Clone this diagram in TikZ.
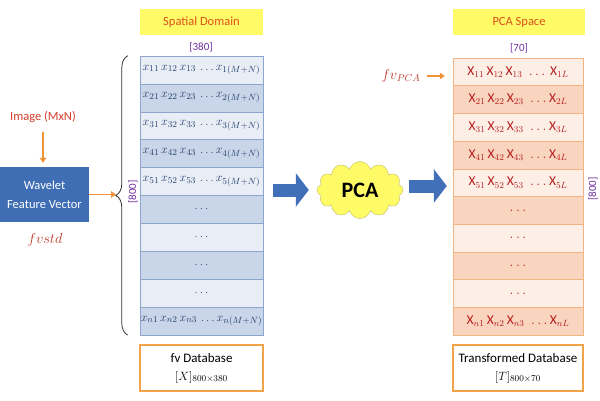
\documentclass[tikz,border=0pt]{standalone}
\usepackage{fontspec}
\setmainfont{Carlito}
\usetikzlibrary{positioning,arrows.meta,shapes,decorations.pathreplacing}
\definecolor{titleyellow}{HTML}{FFFB66}
\definecolor{titlered}{HTML}{DC4F1C}
\definecolor{dimpurple}{HTML}{7030A0}
\definecolor{waveblue}{HTML}{3F6EB5}
\definecolor{arroworange}{HTML}{F0923A}
\definecolor{imgred}{HTML}{D43D2A}
\definecolor{fvred}{HTML}{C0392B}
\definecolor{ltext}{HTML}{24406E}
\definecolor{lline}{HTML}{8DA6CC}
\definecolor{lightL}{HTML}{E9EEF6}
\definecolor{darkL}{HTML}{C9D5E8}
\definecolor{rtext}{HTML}{B71C1C}
\definecolor{rline}{HTML}{F2B483}
\definecolor{lightR}{HTML}{FDEEE6}
\definecolor{darkR}{HTML}{F9D4BF}
\definecolor{dborange}{HTML}{F2A347}
\definecolor{blockblue}{HTML}{4170B8}
\definecolor{cloudyellow}{HTML}{FFFB66}
\definecolor{cloudline}{HTML}{BDBD6A}
\tikzset{
    row/.style={rectangle, draw=#1, minimum height=27.9pt, inner sep=0pt,
        font=\fontsize{13}{15}\selectfont},
    lrow/.style={row=lline, fill=#1, minimum width=123pt, text=ltext},
    rrow/.style={row=rline, fill=#1, minimum width=130pt, minimum height=27.7pt, text=rtext,
        font=\fontsize{13.5}{15}\selectfont},
    title/.style={rectangle, fill=titleyellow, text=titlered, minimum height=26pt,
        font=\fontsize{12.5}{14}\selectfont},
    dim/.style={text=dimpurple, font=\fontsize{11}{13}\selectfont},
    dbbox/.style={rectangle, draw=dborange, line width=1.6pt, fill=white, minimum height=46pt,
        align=center, font=\fontsize{13}{18}\selectfont},
    oarrow/.style={draw=arroworange, line width=1.8pt, -{Triangle[length=5pt,width=6.5pt]}},
    bigarrow/.style={draw=blockblue, line width=13pt, -{Triangle[length=13pt,width=33pt]}},
    bracket/.style={decorate, decoration={brace, amplitude=12pt}, draw=black!80, thick},
}
\begin{document}
\begin{tikzpicture}[x=1pt, y=1pt]
    \useasboundingbox (0,0) rectangle (600,400);
    % spatial domain
    \node[title, minimum width=123pt] (spatial) at (201.5,378) {Spatial Domain};
    \node[dim] (dim380) at (201,353) {[380]};
    \node[lrow=lightL] (l1) at (201.5,330.1) {$x_{11}\,x_{12}\,x_{13}\,\dots x_{1(M+N)}$};
    \node[lrow=darkL] (l2) at (201.5,302.2) {$x_{21}\,x_{22}\,x_{23}\,\dots x_{2(M+N)}$};
    \node[lrow=lightL] (l3) at (201.5,274.3) {$x_{31}\,x_{32}\,x_{33}\,\dots x_{3(M+N)}$};
    \node[lrow=darkL] (l4) at (201.5,246.4) {$x_{41}\,x_{42}\,x_{43}\,\dots x_{4(M+N)}$};
    \node[lrow=lightL] (l5) at (201.5,218.5) {$x_{51}\,x_{52}\,x_{53}\,\dots x_{5(M+N)}$};
    \node[lrow=darkL] (l6) at (201.5,190.6) {$\dots$};
    \node[lrow=lightL] (l7) at (201.5,162.7) {$\dots$};
    \node[lrow=darkL] (l8) at (201.5,134.8) {$\dots$};
    \node[lrow=lightL] (l9) at (201.5,106.9) {$\dots$};
    \node[lrow=darkL] (l10) at (201.5,79.0) {$x_{n1}\,x_{n2}\,x_{n3}\,\dots x_{n(M+N)}$};
    \node[dbbox, minimum width=123pt] (fvdb) at (201.5,32) {fv Database\\$[X]_{800\times380}$};
    \draw[bracket] ([xshift=-12pt]l10.south west) -- ([xshift=-12pt]l1.north west);
    \coordinate (btip) at (116,204.5);
    \node[dim, rotate=90] (dimL) at (133,208) {[800]};
    % wavelet input
    \node[text=imgred, font=\fontsize{12.5}{14}\selectfont] (img) at (43,283) {Image (MxN)};
    \node[rectangle, fill=waveblue, text=white, minimum width=89pt, minimum height=55pt,
        align=center, font=\fontsize{12.5}{19}\selectfont] (wave) at (44.5,205.5) {Wavelet\\Feature Vector};
    \node[text=fvred, font=\fontsize{14}{15}\selectfont] (fvstd) at (45,160) {$fvstd$};
    \draw[oarrow, shorten <=6pt, shorten >=4pt] (img.south) -- (img.south |- wave.north);
    \draw[oarrow] (wave.east) -- (wave.east -| btip);
    % pca
    \node[cloud, cloud puffs=12, aspect=1.5, fill=cloudyellow, draw=cloudline, minimum width=86pt,
        minimum height=57pt, inner sep=0pt, font=\bfseries\fontsize{22}{24}\selectfont] (pca) at (360,210) {PCA};
    \draw[bigarrow, shorten <=10pt, shorten >=8pt] (pca.west -| l1.east) -- (pca.west);
    % pca space
    \node[title, minimum width=132pt] (pcaspace) at (519,378) {PCA Space};
    \node[dim] (dim70) at (519,352) {[70]};
    \node[rrow=lightR] (r1) at (518,328.2) {$\mathrm{X}_{11}\,\mathrm{X}_{12}\,\mathrm{X}_{13}\;\dots\,\mathrm{X}_{1L}$};
    \node[rrow=darkR] (r2) at (518,300.5) {$\mathrm{X}_{21}\,\mathrm{X}_{22}\,\mathrm{X}_{23}\;\dots\mathrm{X}_{2L}$};
    \node[rrow=lightR] (r3) at (518,272.8) {$\mathrm{X}_{31}\,\mathrm{X}_{32}\,\mathrm{X}_{33}\;\dots\mathrm{X}_{3L}$};
    \node[rrow=darkR] (r4) at (518,245.1) {$\mathrm{X}_{41}\,\mathrm{X}_{42}\,\mathrm{X}_{43}\;\dots\mathrm{X}_{4L}$};
    \node[rrow=lightR] (r5) at (518,217.4) {$\mathrm{X}_{51}\,\mathrm{X}_{52}\,\mathrm{X}_{53}\;\dots\mathrm{X}_{5L}$};
    \node[rrow=darkR] (r6) at (518,189.7) {$\dots$};
    \node[rrow=lightR] (r7) at (518,162.0) {$\dots$};
    \node[rrow=darkR] (r8) at (518,134.3) {$\dots$};
    \node[rrow=lightR] (r9) at (518,106.6) {$\dots$};
    \node[rrow=darkR] (r10) at (518,78.9) {$\mathrm{X}_{n1}\,\mathrm{X}_{n2}\,\mathrm{X}_{n3}\;\dots\mathrm{X}_{nL}$};
    \node[dbbox, minimum width=130pt] (tdb) at (518,32) {Transformed Database\\$[T]_{800\times70}$};
    \node[dim, rotate=90] (dimR) at (593,211) {[800]};
    \node[text=fvred, font=\fontsize{14}{15}\selectfont] (fvpca) at (401,324) {$fv_{PCA}$};
    \draw[oarrow, shorten <=3pt, shorten >=8pt] (fvpca.east) -- (fvpca.east -| r1.west);
    \draw[bigarrow, shorten <=6pt, shorten >=6pt] ([yshift=4pt]pca.east) -- ([yshift=4pt]pca.east -| r1.west);
\end{tikzpicture}
\end{document}
